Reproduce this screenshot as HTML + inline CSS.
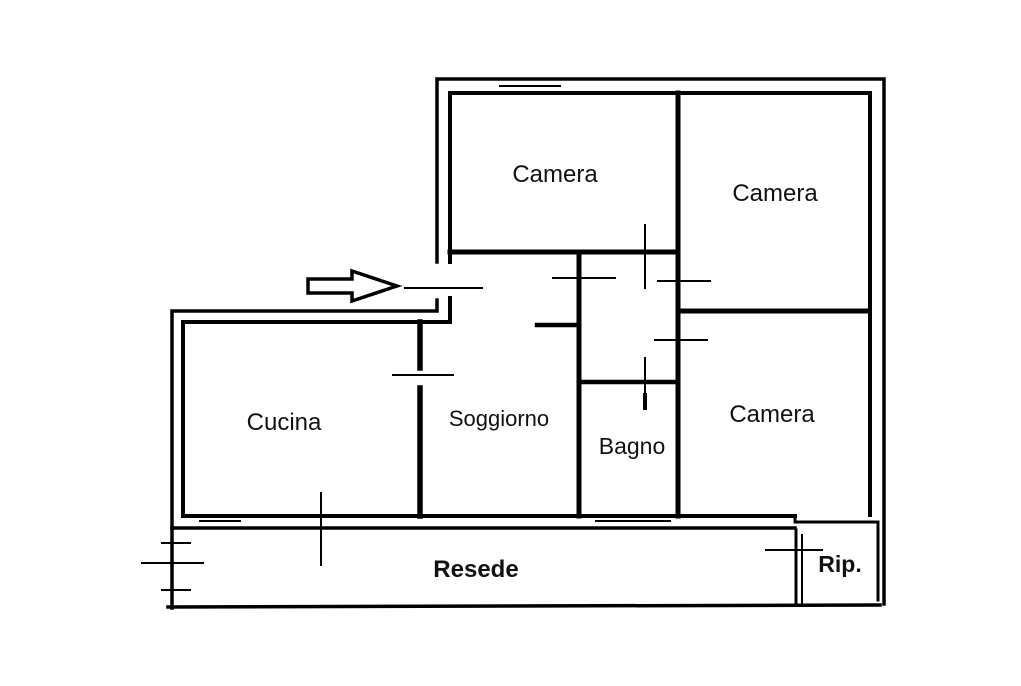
<!DOCTYPE html>
<html><head><meta charset="utf-8"><style>
html,body{margin:0;padding:0;background:#fff;}
svg{display:block}
text{font-family:"Liberation Sans",sans-serif;fill:#111;}
</style></head><body>
<svg width="1021" height="686" viewBox="0 0 1021 686" xmlns="http://www.w3.org/2000/svg">
<g stroke="#000" fill="none" stroke-linecap="square">
<polyline points="437,262 437,79 884,79 884,604" stroke-width="3.5"/>
<polyline points="437,300 437,311 172,311 172,608" stroke-width="3.5"/>
<line x1="168" y1="607" x2="880" y2="605" stroke-width="3.5"/>
<line x1="172" y1="528" x2="795" y2="528" stroke-width="3.5"/>
<polyline points="450,262 450,93 870,93 870,515" stroke-width="4"/>
<polyline points="450,298 450,322 183,322 183,516" stroke-width="4"/>
<line x1="183" y1="516" x2="795" y2="516" stroke-width="4"/>
<polyline points="795,516 795,522 878,522 878,600" stroke-width="3"/>
<line x1="796" y1="530" x2="796" y2="604" stroke-width="3"/>
<line x1="802" y1="535" x2="802" y2="604" stroke-width="2"/>
<line x1="420" y1="322" x2="420" y2="368" stroke-width="5.5"/>
<line x1="420" y1="388" x2="420" y2="516" stroke-width="5.5"/>
<line x1="450" y1="252" x2="678" y2="252" stroke-width="5"/>
<line x1="678" y1="93" x2="678" y2="516" stroke-width="5"/>
<line x1="678" y1="311" x2="868" y2="311" stroke-width="5"/>
<line x1="579" y1="252" x2="579" y2="516" stroke-width="5"/>
<line x1="579" y1="382" x2="678" y2="382" stroke-width="4.5"/>
<line x1="537" y1="325" x2="579" y2="325" stroke-width="4.5"/>
<line x1="884" y1="320" x2="884" y2="600" stroke-width="3"/>
<g stroke-width="2">
<line x1="405" y1="288" x2="482" y2="288"/>
<line x1="393" y1="375" x2="453" y2="375"/>
<line x1="553" y1="278" x2="615" y2="278"/>
<line x1="578" y1="262" x2="578" y2="305"/>
<line x1="645" y1="225" x2="645" y2="288"/>
<line x1="658" y1="281" x2="710" y2="281"/>
<line x1="655" y1="340" x2="707" y2="340"/>
<line x1="645" y1="358" x2="645" y2="395"/>
<line x1="321" y1="493" x2="321" y2="565"/>
<line x1="142" y1="563" x2="203" y2="563"/>
<line x1="162" y1="543" x2="190" y2="543"/>
<line x1="162" y1="590" x2="190" y2="590"/>
<line x1="766" y1="550" x2="822" y2="550"/>
<line x1="500" y1="86" x2="560" y2="86"/>
<line x1="596" y1="521" x2="670" y2="521"/>
<line x1="200" y1="521" x2="240" y2="521"/>
</g>
<line x1="645" y1="395" x2="645" y2="408" stroke-width="4"/>
<polygon points="308,279 352,279 352,271 397,286 352,301 352,293 308,293" stroke-width="3.5" stroke-linejoin="miter"/>
</g>
<text x="555" y="182" font-size="24" text-anchor="middle">Camera</text>
<text x="775" y="201" font-size="24" text-anchor="middle">Camera</text>
<text x="284" y="430" font-size="24" text-anchor="middle">Cucina</text>
<text x="499" y="426" font-size="22" text-anchor="middle">Soggiorno</text>
<text x="632" y="454" font-size="23" text-anchor="middle">Bagno</text>
<text x="772" y="422" font-size="24" text-anchor="middle">Camera</text>
<text x="476" y="577" font-size="24" font-weight="bold" text-anchor="middle">Resede</text>
<text x="840" y="572" font-size="23" font-weight="bold" text-anchor="middle">Rip.</text>
</svg>
</body></html>
